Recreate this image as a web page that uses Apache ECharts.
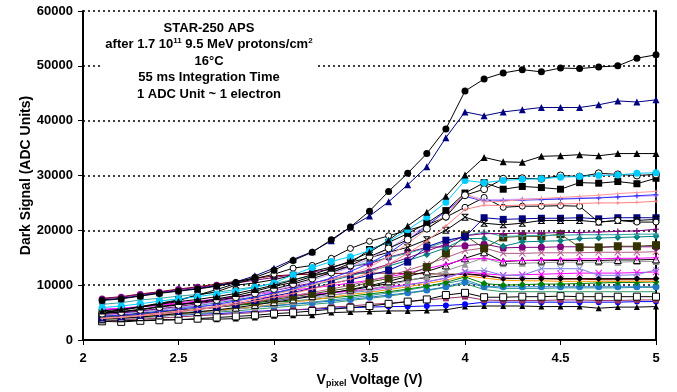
<!DOCTYPE html>
<html><head><meta charset="utf-8">
<script src="https://cdn.jsdelivr.net/npm/echarts@6/dist/echarts.min.js"></script>
<style>html,body{margin:0;padding:0;background:#fff}#c{width:677px;height:392px}</style>
</head><body><div id="c"></div>
<script>
const voltages = [2.1,2.2,2.3,2.4,2.5,2.6,2.7,2.8,2.9,3.0,3.1,3.2,3.3,3.4,3.5,3.6,3.7,3.8,3.9,4.0,4.1,4.2,4.3,4.4,4.5,4.6,4.7,4.8,4.9,5.0];
const yTicks = [0,10000,20000,30000,40000,50000,60000];
const xTicks = [2,2.5,3,3.5,4,4.5,5];
const annotationLines = ["STAR-250 APS","after 1.7 10{sup|11} 9.5 MeV protons/cm{sup|2}","16°C","55 ms Integration Time","1 ADC Unit ~ 1 electron"];
const xTitle = "V{sub|pixel} Voltage (V)";
const yTitle = "Dark Signal (ADC Units)";

const s35 = [3600,3500,3600,3700,3700,3800,3800,3900,4100,4400,4500,4500,5000,5100,5200,5300,5300,5400,5500,6100,6200,6200,6200,6100,6100,6100,5800,6000,6000,6100];
const s34 = [4000,4100,4200,4400,4500,4700,4800,5000,5200,5400,5500,5600,5800,5900,6000,6100,6100,6200,6300,6500,6900,6900,6900,6900,6900,6900,6900,6900,7000,7000];
const s33 = [3600,3700,3800,4000,4200,4400,4600,4800,5000,5300,5500,5700,6000,6200,6500,6700,7000,7300,7600,7900,7300,7200,7200,7200,7300,7300,7200,7200,7300,7300];
const s32 = [3400,3300,3500,3600,3700,3900,4100,4300,4500,4800,5000,5300,5600,5900,6200,6600,7000,7400,8200,8600,7800,7800,7900,7900,8000,7900,7900,7900,7900,7900];
const s31 = [3700,3900,4100,4300,4600,4800,5100,5300,5600,5900,6200,6500,6800,7200,7600,8000,8500,9000,9600,10300,9200,8800,8800,8800,8800,8800,8800,8800,8800,8800];
const s30 = [4000,4200,4400,4700,4900,5200,5400,5700,6000,6300,6600,6900,7300,7700,8100,8600,9100,9700,10300,11000,9800,9400,9400,9400,9500,9500,9500,9500,9600,9600];
const s29 = [3900,4100,4300,4600,4900,5100,5400,5700,6000,6200,6500,6800,7100,7400,7800,8200,8600,9100,9700,10600,9700,9700,9700,9700,9700,9700,9700,9700,9700,9700];
const s28 = [4400,4600,4900,5200,5500,5700,6000,6300,6600,6900,7100,7400,7700,8000,8400,8800,9300,9800,10500,11500,10300,10000,10100,10200,10200,10300,10400,10500,10500,10600];
const s27 = [3900,4100,4300,4600,4800,5100,5400,5700,6100,6500,6900,7300,7800,8300,8700,9200,9700,10300,10900,11700,11300,10900,10800,10800,10700,10700,10700,10700,10700,10700];
const s26 = [7600,7900,8400,8800,9300,9700,10200,10700,11200,11700,11900,12000,12100,12200,12200,12200,12100,12100,12000,12000,11700,11300,11200,11200,11100,11100,11000,11000,11000,11000];
const s25 = [4300,4500,4800,5100,5400,5700,6000,6400,6800,7200,7600,8100,8600,9100,9700,10300,10900,11400,11800,12100,11800,11200,11200,11200,11200,11200,11200,11200,11200,11200];
const s24 = [5500,5700,6000,6300,6600,6900,7100,7400,7600,7900,8100,8400,8600,8900,9300,9700,10100,10600,11300,12400,12100,11800,11900,12000,12100,12200,12200,12200,12300,12400];
const s23 = [4900,5100,5300,5600,5900,6100,6400,6700,7000,7300,7600,7900,8200,8600,9000,9500,10000,10600,11300,12500,12700,11800,11800,13000,13000,13000,11800,11800,11900,12800];
const s22 = [3600,3800,4000,4300,4600,4900,5200,5600,6000,6500,7000,7500,8100,8700,9300,10000,10800,11600,12600,13800,15000,13900,14000,14100,14200,14200,14200,14200,14300,14300];
const s21 = [3800,4000,4200,4500,4800,5100,5500,5900,6400,6900,7400,8000,8600,9200,9900,10700,11600,12500,13600,14900,16000,14300,14500,14500,14500,14500,14500,14600,14600,14700];
const s20 = [5600,5800,6100,6400,6800,7100,7500,7900,8300,8700,9100,9500,9900,10400,10900,11500,12200,13000,13800,14700,14900,14400,14500,14600,14700,14800,14800,14900,14900,15000];
const s19 = [4100,4300,4600,4900,5200,5600,6000,6500,7000,7600,8100,8700,9300,10000,10800,11700,12700,13800,15000,16300,16800,15800,15800,15900,15900,15900,16000,16000,16000,16100];
const s18 = [7500,7800,8300,8700,9200,9600,10000,10400,10900,11400,11900,12400,12900,13400,13900,15100,16000,16900,17000,17200,17500,16800,16900,16900,17000,17000,16900,17000,17000,17000];
const s17 = [4200,4400,4700,5000,5300,5600,6000,6400,6900,7400,7900,8400,9000,9500,10600,11200,11800,13300,15800,19100,16700,18700,18900,18900,19300,16900,16900,17100,17100,17300];
const s16 = [4500,4800,5100,5500,5900,6300,6800,7300,7900,8500,9200,10000,10800,11700,12600,13500,14500,15600,16800,18500,18500,17100,17900,18000,18100,18500,18600,18700,18800,18900];
const s15 = [6500,6800,7300,7600,8000,8300,8700,9200,9700,10300,11000,11700,12500,13300,14200,15000,15800,16800,17900,19000,19700,18900,19000,19100,19100,19200,19200,19200,19300,19300];
const s14 = [4600,4900,5300,5700,6100,6600,7100,7700,8300,9000,9700,10400,11100,11900,12800,13800,15000,16200,17500,19000,19400,19400,19500,19500,19600,19600,19700,19800,19900,20200];
const s13 = [4000,4200,4500,4800,5200,5600,6000,6500,7200,8000,8700,9400,10300,11000,11800,12700,14200,17000,18200,18800,22300,22000,22100,22200,22200,22300,22100,22300,22300,22300];
const s12 = [5000,5500,6100,6700,7300,8200,8800,10000,10400,11000,11800,12500,13300,14200,15000,16000,16900,18300,20000,22400,21300,21000,21300,21800,21800,21800,21500,21800,21800,22000];
const s11 = [5000,5400,6000,6600,7200,8200,9200,10300,11200,12000,13100,13600,14900,16700,18000,19000,20000,21000,22400,24200,26000,24200,24400,24400,24500,24400,21500,21800,21500,21500];
const s10 = [3900,4100,4400,4700,5100,5500,6000,6500,7100,7800,8500,9300,10200,11100,12200,13800,15800,18000,20800,23800,24600,24500,24600,24700,24800,24900,25000,25000,25100,25300];
const s9  = [4500,4700,5100,5500,5900,6400,6900,7500,8200,9000,9900,10900,12000,13300,14800,16700,18800,20900,23400,26500,25600,25600,25700,25800,25800,25900,26000,26100,26200,26300];
const s8  = [4300,4500,4800,5200,5600,6000,6500,7100,7800,8600,9400,10300,11300,12500,14000,15800,18200,20800,23500,26200,25300,25400,25500,25600,25700,25800,25900,26100,26300,26500];
const s7  = [4000,4200,4500,4900,5300,5700,6200,6800,7500,8300,9100,10000,11000,12000,13300,15200,17600,20200,22800,26700,25200,25300,25600,25800,26000,26200,26400,26700,26900,27100];
const s6  = [4900,5200,5600,6100,6500,6900,7500,8100,8900,9800,10500,11600,12600,14000,16500,17800,19400,21300,23600,26800,28700,27500,28000,27800,27500,28700,28600,28900,28500,29500];
const s5  = [4800,5100,5500,6000,6400,6800,7300,7800,8500,9300,10200,11200,12300,13600,15200,16700,18300,20300,22500,26400,27500,29400,29500,29400,30000,29800,30400,30200,30000,30200];
const s4  = [5900,6200,6600,7100,7500,7900,8400,8900,9600,10400,11900,13200,14300,15200,16300,18000,20100,22400,25100,29100,28700,29100,29300,29400,29700,29800,30000,30100,30400,30500];
const s3  = [5300,5600,6000,6500,7000,7400,7900,8500,9200,10000,10900,11900,13100,14400,16000,18200,20800,23300,26200,30100,33300,32500,32400,33500,33600,33800,33600,34000,34000,34000];
const s2  = [7300,7600,8100,8600,9000,9400,9900,10600,11700,13100,14700,16100,18100,20600,22600,25200,28300,31600,36900,41600,40900,41600,42000,42400,42400,42400,42900,43600,43400,43800];
const s1  = [7200,7500,8000,8500,8900,9300,9800,10500,11400,12700,14500,16000,18300,20600,23500,27100,30400,34000,38500,45400,47600,48700,49300,48900,49600,49500,49800,50000,51400,52000];

const X = 'path://M0,1L1,0L5,4L9,0L10,1L6,5L10,9L9,10L5,6L1,10L0,9L4,5Z';
const PLUS = 'path://M4,0H6V4H10V6H6V10H4V6H0V4H4Z';
const STAR = 'path://M0,0H10V1.4H0Z M0,8.6H10V10H0Z M0,1L1,0L5,4L9,0L10,1L6,5L10,9L9,10L5,6L1,10L0,9L4,5Z';

// [data, lineColor, symbol, size, markerFill, markerBorder]
const defs = [
  [s35,'#000000','triangle',6,'#000000',null],
  [s34,'#0000ff','circle',6,'#0000ff',null],
  [s33,'#993366','rect',6,'#993366',null],
  [s32,'#000000','rect',7,'#ffffff','#000000'],
  [s31,'#339966','none',0,null,null],
  [s30,'#339999','none',0,null,null],
  [s29,'#1f78c8','circle',7,'#1f78c8',null],
  [s28,'#008000','diamond',7,'#008000',null],
  [s27,'#ff9900','none',0,null,null],
  [s26,'#800000','none',0,null,null],
  [s25,'#000000','diamond',7,'#000000',null],
  [s24,'#ff00ff',X,7,'#ff00ff',null],
  [s23,'#7b7fe0',X,6,'#7b7fe0',null],
  [s22,'#969696','triangle',7,'#969696',null],
  [s21,'#000000','triangle',7,'#ffffff','#000000'],
  [s20,'#ff00ff',PLUS,6,'#ff00ff',null],
  [s19,'#b05a86',X,7,'#b05a86',null],
  [s18,'#800080','circle',7,'#800080',null],
  [s17,'#4d4d1a','rect',8,'#333300',null],
  [s16,'#008080','diamond',7,'#008080',null],
  [s15,'#33a3a3',PLUS,6,'#33a3a3',null],
  [s14,'#800080',PLUS,6,'#800080',null],
  [s13,'#0000a0','rect',7,'#000080',null],
  [s12,'#000000',STAR,7,'#000000',null],
  [s11,'#000000','circle',6,'#ffffff','#000000'],
  [s10,'#ff8080',PLUS,4,'#ff8080',null],
  [s9,'#cc99ff',PLUS,5,'#cc99ff',null],
  [s8,'#3333ff',PLUS,5,'#3333ff',null],
  [s7,'#ff9999',PLUS,4,'#ff9999',null],
  [s6,'#000000','rect',7,'#000000',null],
  [s5,'#000000','circle',7,'#ffffff','#000000'],
  [s4,'#00ccff','circle',7,'#00ccff',null],
  [s3,'#000000','triangle',7,'#000000',null],
  [s2,'#000080','triangle',7,'#000080',null],
  [s1,'#000000','circle',7,'#000000',null]
];

const series = defs.map((d,i) => ({
  type:'line', name:'s'+i, data: voltages.map((v,k)=>[v,d[0][k]]),
  symbol: d[2], symbolSize: d[3], showSymbol: d[2] !== 'none',
  lineStyle:{color:d[1], width:1},
  itemStyle:{color: d[4] || d[1], borderColor: d[5] || d[4] || d[1], borderWidth: d[5] ? 1 : 0},
  emphasis:{disabled:true}, animation:false, z: 2+i*0.01
}));

const FONT = '"Liberation Sans", Arial, sans-serif';
const chart = echarts.init(document.getElementById('c'), null, {renderer:'canvas'});
const lineGap = 16.5;
const graphics = [{type:'rect', z:100, shape:{x:100,y:15,width:218,height:88}, style:{fill:'#ffffff'}}];
annotationLines.forEach((t,i)=>{
  graphics.push({type:'text', z:101, x:209, y:28+i*lineGap, style:{
    text:t, x:0, y:0, align:'center', verticalAlign:'middle',
    font:'bold 13px '+FONT, fill:'#000',
    rich:{sup:{fontSize:8, fontWeight:'bold', fontFamily:FONT, verticalAlign:'top', lineHeight:15}}
  }});
});

chart.setOption({
  animation:false,
  backgroundColor:'#ffffff',
  textStyle:{fontFamily:FONT},
  grid:{left:83, right:21, top:11, bottom:52, containLabel:false, outerBoundsMode:'none'},
  xAxis:{type:'value', min:2, max:5, interval:0.5,
    axisLine:{show:true, onZero:false, lineStyle:{color:'#000', width:2}},
    axisTick:{show:true, inside:false, length:5, lineStyle:{color:'#000', width:1}},
    axisLabel:{color:'#000', fontWeight:'bold', fontSize:13, margin:12, fontFamily:FONT,
      formatter: v => xTicks.includes(+v.toFixed(1)) ? String(+v.toFixed(1)) : ''},
    splitLine:{show:false},
    name:xTitle, nameLocation:'middle', nameGap:33, nameMoveOverlap:false,
    nameTextStyle:{color:'#000', fontWeight:'bold', fontSize:14, fontFamily:FONT,
      rich:{sub:{fontSize:9, fontWeight:'bold', fontFamily:FONT, verticalAlign:'bottom', padding:[6,0,0,0]}}}
  },
  yAxis:[{type:'value', min:0, max:60000, interval:10000,
    axisLine:{show:true, onZero:false, lineStyle:{color:'#000', width:2}},
    axisTick:{show:true, inside:false, length:5, lineStyle:{color:'#000', width:1}},
    axisLabel:{color:'#000', fontWeight:'bold', fontSize:13, margin:10, fontFamily:FONT,
      formatter: v => yTicks.includes(v) ? String(v) : ''},
    splitLine:{show:true, lineStyle:{color:'#000', type:[2,3], width:1.5}},
    name:yTitle, nameLocation:'middle', nameGap:50, nameRotate:90, nameMoveOverlap:false,
    nameTextStyle:{color:'#000', fontWeight:'bold', fontSize:14, fontFamily:FONT}
  },{type:'value', min:0, max:60000, interval:10000, position:'right',
    axisLine:{show:true, lineStyle:{color:'#000', width:2}},
    axisTick:{show:false}, axisLabel:{show:false}, splitLine:{show:false}}],
  series: series,
  graphic: graphics
});
</script></body></html>
